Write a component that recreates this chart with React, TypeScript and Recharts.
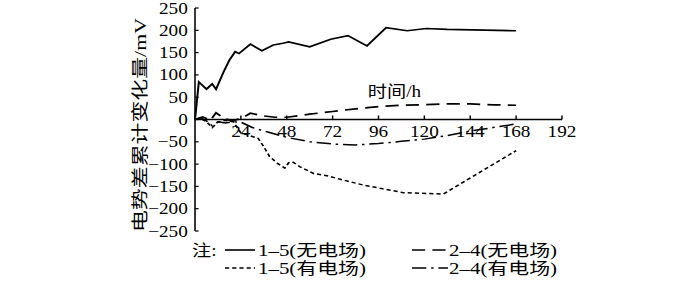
import React from 'react';
import { LineChart, Line, XAxis, YAxis, ReferenceLine } from 'recharts';

// ---- data ----
const hours15NoField = [0, 2, 6, 9, 11, 15, 18, 21, 23, 29, 35, 41, 46, 49, 60, 71, 80, 90, 100, 111, 121, 132, 168];
const values15NoField = [0, 84, 68, 80, 68, 107, 133, 152, 148, 169, 154, 167, 171, 174, 163, 180, 188, 165, 206, 199, 204, 202, 199];

const hours24NoField = [0, 4, 8, 11, 15, 19, 24, 29, 36, 42, 48, 60, 72, 84, 96, 108, 120, 132, 144, 156, 168];
const values24NoField = [0, 6, -2, 15, 3, -3, 2, 14, 8, 5, 5, 12, 18, 24, 29, 32, 33, 35, 35, 33, 32];

const hours15Field = [0, 3, 6, 9, 12, 16, 20, 24, 30, 33, 36, 39, 43, 47, 49, 51, 55, 62, 69, 76, 88, 109, 130, 168];
const values15Field = [0, 2, -5, -18, -6, -2, -5, -30, -38, -42, -61, -83, -98, -109, -97, -95, -106, -121, -126, -134, -147, -164, -167, -70];

const hours24Field = [0, 3, 6, 9, 12, 16, 20, 24, 30, 38, 48, 60, 72, 84, 96, 108, 120, 132, 144, 156, 168];
const values24Field = [0, 4, -3, -14, -5, -8, -5, -6, -18, -28, -40, -50, -55, -57, -54, -49, -44, -36, -26, -18, -10];

const xTicks = [24, 48, 72, 96, 120, 144, 168, 192];
const yTicks = [-250, -200, -150, -100, -50, 0, 50, 100, 150, 200, 250];

const seriesNames = ['1–5(无电场)', '2–4(无电场)', '1–5(有电场)', '2–4(有电场)'];
const yLabel = '电势差累计变化量/mV';
const xLabel = '时间/h';
const notePrefix = '注:';

const zip = (h: number[], v: number[]) => h.map((x, i) => ({ h: x, v: v[i] }));

const S = 1.2;
const W = 583;
const H = 292;
const FONT = "'Liberation Serif', 'Times New Roman', 'Noto Sans CJK SC', serif";

const fmt = (v: number) => (v < 0 ? '\u2212' + Math.abs(v) : String(v));

const YTick = (props: any) => {
  const { x, y, payload } = props;
  return (
    <g>
      <line x1={x} x2={x + 3} y1={y} y2={y} stroke="#000" strokeWidth={1.2} />
      <text x={x - 6} y={y} dy="0.35em" textAnchor="end" fontSize={16} fontFamily={FONT} fill="#000">
        {fmt(payload.value)}
      </text>
    </g>
  );
};

const styles = [
  { dash: undefined as string | undefined },
  { dash: '11 6' },
  { dash: '3.5 2.5' },
  { dash: '12 4 2 4' },
];

export default function App() {
  const d1 = zip(hours15NoField, values15NoField);
  const d2 = zip(hours24NoField, values24NoField);
  const d3 = zip(hours15Field, values15Field);
  const d4 = zip(hours24Field, values24Field);

  const legendRows = [
    { y: 250, items: [0, 1] },
    { y: 268, items: [2, 3] },
  ];
  const colLine = [[187.5, 212.5], [343.3, 373.3]];
  const colText = [215, 374.2];

  return (
    <div style={{ position: 'absolute', left: 0, top: 0, width: 700, height: H, overflow: 'hidden', background: '#fff' }}>
      <div style={{ width: W, height: H, transform: `scaleX(${S})`, transformOrigin: '0 0' }}>
        <LineChart width={W} height={H} margin={{ top: 8, right: W - 468.3, bottom: H - 231, left: 112.5 }}>
          <XAxis type="number" dataKey="h" domain={[0, 192]} ticks={xTicks} hide />
          <YAxis
            type="number"
            domain={[-250, 250]}
            ticks={yTicks}
            width={50}
            axisLine={{ stroke: '#000', strokeWidth: 1.3 }}
            tickLine={false}
            tickSize={0}
            tickMargin={0}
            tick={<YTick />}
            interval={0}
          />
          <ReferenceLine y={0} stroke="#000" strokeWidth={1.3} ifOverflow="extendDomain" />
          {xTicks.map((t) => (
            <ReferenceLine
              key={t}
              segment={[{ x: t, y: 0 }, { x: t, y: 9 }]}
              stroke="#000"
              strokeWidth={1.2}
              label={{ value: String(t), position: 'bottom', offset: 6, fill: '#000', fontSize: 16, fontFamily: FONT }}
            />
          ))}
          <Line data={d1} dataKey="v" stroke="#000" strokeWidth={1.7} dot={false} isAnimationActive={false} />
          <Line data={d2} dataKey="v" stroke="#000" strokeWidth={1.7} strokeDasharray={styles[1].dash} dot={false} isAnimationActive={false} />
          <Line data={d3} dataKey="v" stroke="#000" strokeWidth={1.5} strokeDasharray={styles[2].dash} dot={false} isAnimationActive={false} />
          <Line data={d4} dataKey="v" stroke="#000" strokeWidth={1.5} strokeDasharray={styles[3].dash} dot={false} isAnimationActive={false} />

          <text
            x={116.7}
            y={125}
            transform="rotate(-90, 116.7, 125)"
            textAnchor="middle"
            dominantBaseline="central"
            fontSize={14}
            fontFamily={FONT}
            textLength={214}
            lengthAdjust="spacingAndGlyphs"
            fill="#000"
          >
            {yLabel}
          </text>
          <text x={328.7} y={91} dy="0.35em" textAnchor="middle" fontSize={16} fontFamily={FONT} fill="#000">
            {xLabel}
          </text>

          <g>
            <text x={160} y={250} dy="0.35em" fontSize={16} fontFamily={FONT} fill="#000">{notePrefix}</text>
            {legendRows.map((row) =>
              row.items.map((si, ci) => (
                <g key={si}>
                  <line
                    x1={colLine[ci][0]}
                    x2={colLine[ci][1]}
                    y1={row.y}
                    y2={row.y}
                    stroke="#000"
                    strokeWidth={1.6}
                    strokeDasharray={styles[si].dash}
                  />
                  <text
                    x={colText[ci]}
                    y={row.y}
                    dy="0.35em"
                    fontSize={16}
                    fontFamily={FONT}
                    fill="#000"
                    textLength={90}
                    lengthAdjust="spacingAndGlyphs"
                  >
                    {seriesNames[si]}
                  </text>
                </g>
              ))
            )}
          </g>
        </LineChart>
      </div>
    </div>
  );
}
